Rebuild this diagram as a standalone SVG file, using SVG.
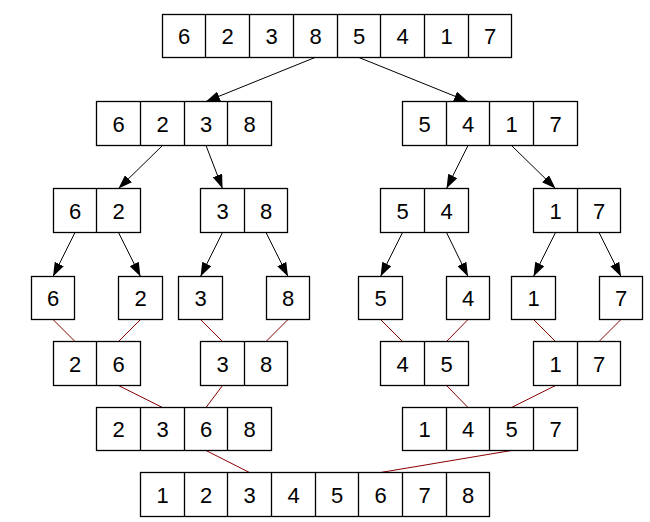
<svg xmlns="http://www.w3.org/2000/svg" width="650" height="522" viewBox="0 0 650 522">
<defs>
<style>
.box{fill:#fff;stroke:#000;stroke-width:1.3}
.div{stroke:#000;stroke-width:1.3}
text{font-family:"Liberation Sans",Arial,sans-serif;font-size:22px;text-anchor:middle;fill:#000}
.split{stroke:#000;stroke-width:1;fill:none}
.merge{stroke:#8b0000;stroke-width:1;fill:none}
</style>
<marker id="ah" markerUnits="userSpaceOnUse" markerWidth="14" markerHeight="10" refX="14" refY="5" orient="auto" viewBox="0 0 14 10">
<path d="M0,0 L14,5 L0,10 z" fill="#000"/>
</marker>
</defs>
<rect width="650" height="522" fill="#fff"/>
<g id="connectors">
<g class="split">
<line x1="315" y1="57.5" x2="206" y2="101.5" marker-end="url(#ah)"/>
<line x1="359" y1="57.5" x2="468" y2="101.5" marker-end="url(#ah)"/>
<line x1="162.5" y1="145.5" x2="118.5" y2="188.5" marker-end="url(#ah)"/>
<line x1="206" y1="145.5" x2="222.5" y2="188.5" marker-end="url(#ah)"/>
<line x1="468" y1="145.5" x2="446.5" y2="188.5" marker-end="url(#ah)"/>
<line x1="511.5" y1="145.5" x2="555.5" y2="188.5" marker-end="url(#ah)"/>
<line x1="75" y1="232.5" x2="53" y2="276.5" marker-end="url(#ah)"/>
<line x1="118.5" y1="232.5" x2="140.5" y2="276.5" marker-end="url(#ah)"/>
<line x1="222.5" y1="232.5" x2="200.5" y2="276.5" marker-end="url(#ah)"/>
<line x1="266" y1="232.5" x2="288" y2="276.5" marker-end="url(#ah)"/>
<line x1="402.5" y1="232.5" x2="380.5" y2="276.5" marker-end="url(#ah)"/>
<line x1="446.5" y1="232.5" x2="468" y2="276.5" marker-end="url(#ah)"/>
<line x1="555.5" y1="232.5" x2="533.5" y2="276.5" marker-end="url(#ah)"/>
<line x1="599" y1="232.5" x2="621" y2="276.5" marker-end="url(#ah)"/>
</g>
<g class="merge">
<line x1="53" y1="319.5" x2="75" y2="341.5"/>
<line x1="140.5" y1="319.5" x2="118.5" y2="341.5"/>
<line x1="200.5" y1="319.5" x2="222.5" y2="341.5"/>
<line x1="288" y1="319.5" x2="266" y2="341.5"/>
<line x1="380.5" y1="319.5" x2="402.5" y2="341.5"/>
<line x1="468" y1="319.5" x2="446.5" y2="341.5"/>
<line x1="533.5" y1="319.5" x2="555.5" y2="341.5"/>
<line x1="621" y1="319.5" x2="599" y2="341.5"/>
<line x1="118.5" y1="385.5" x2="162.5" y2="407.5"/>
<line x1="222.5" y1="385.5" x2="206" y2="407.5"/>
<line x1="446.5" y1="385.5" x2="468" y2="407.5"/>
<line x1="555.5" y1="385.5" x2="511.5" y2="407.5"/>
<line x1="206" y1="450.5" x2="249.5" y2="472.5"/>
<line x1="511.5" y1="450.5" x2="380.5" y2="472.5"/>
</g>
</g>

<g id="n_top">
<rect class="box" x="162.5" y="14.5" width="349" height="43"/>
<path class="div" d="M205.5,14.5V57.5M249.5,14.5V57.5M293.5,14.5V57.5M337.5,14.5V57.5M380.5,14.5V57.5M424.5,14.5V57.5M468.5,14.5V57.5"/>
<text x="184" y="44">6</text><text x="227.5" y="44">2</text><text x="271.5" y="44">3</text><text x="315.5" y="44">8</text><text x="359" y="44">5</text><text x="402.5" y="44">4</text><text x="446.5" y="44">1</text><text x="490" y="44">7</text>
</g>

<g id="n_6238">
<rect class="box" x="96.5" y="101.5" width="175" height="44"/>
<path class="div" d="M140.5,101.5V145.5M184.5,101.5V145.5M227.5,101.5V145.5"/>
<text x="118.5" y="131.5">6</text><text x="162.5" y="131.5">2</text><text x="206" y="131.5">3</text><text x="249.5" y="131.5">8</text>
</g>
<g id="n_5417">
<rect class="box" x="402.5" y="101.5" width="175" height="44"/>
<path class="div" d="M446.5,101.5V145.5M489.5,101.5V145.5M533.5,101.5V145.5"/>
<text x="424.5" y="131.5">5</text><text x="468" y="131.5">4</text><text x="511.5" y="131.5">1</text><text x="555.5" y="131.5">7</text>
</g>

<g id="n_62">
<rect class="box" x="53.5" y="188.5" width="87" height="44"/>
<path class="div" d="M96.5,188.5V232.5"/>
<text x="75" y="218.5">6</text><text x="118.5" y="218.5">2</text>
</g>
<g id="n_38">
<rect class="box" x="200.5" y="188.5" width="87" height="44"/>
<path class="div" d="M244.5,188.5V232.5"/>
<text x="222.5" y="218.5">3</text><text x="266" y="218.5">8</text>
</g>
<g id="n_54">
<rect class="box" x="380.5" y="188.5" width="88" height="44"/>
<path class="div" d="M424.5,188.5V232.5"/>
<text x="402.5" y="218.5">5</text><text x="446.5" y="218.5">4</text>
</g>
<g id="n_17">
<rect class="box" x="533.5" y="188.5" width="87" height="44"/>
<path class="div" d="M577.5,188.5V232.5"/>
<text x="555.5" y="218.5">1</text><text x="599" y="218.5">7</text>
</g>

<g id="n_6"><rect class="box" x="31.5" y="276.5" width="43" height="43"/><text x="53" y="306">6</text></g>
<g id="n_2"><rect class="box" x="118.5" y="276.5" width="44" height="43"/><text x="140.5" y="306">2</text></g>
<g id="n_3"><rect class="box" x="178.5" y="276.5" width="44" height="43"/><text x="200.5" y="306">3</text></g>
<g id="n_8"><rect class="box" x="266.5" y="276.5" width="43" height="43"/><text x="288" y="306">8</text></g>
<g id="n_5"><rect class="box" x="358.5" y="276.5" width="44" height="43"/><text x="380.5" y="306">5</text></g>
<g id="n_4"><rect class="box" x="446.5" y="276.5" width="43" height="43"/><text x="468" y="306">4</text></g>
<g id="n_1"><rect class="box" x="511.5" y="276.5" width="44" height="43"/><text x="533.5" y="306">1</text></g>
<g id="n_7"><rect class="box" x="599.5" y="276.5" width="43" height="43"/><text x="621" y="306">7</text></g>

<g id="n_26">
<rect class="box" x="53.5" y="341.5" width="87" height="44"/>
<path class="div" d="M96.5,341.5V385.5"/>
<text x="75" y="371.5">2</text><text x="118.5" y="371.5">6</text>
</g>
<g id="n_38b">
<rect class="box" x="200.5" y="341.5" width="87" height="44"/>
<path class="div" d="M244.5,341.5V385.5"/>
<text x="222.5" y="371.5">3</text><text x="266" y="371.5">8</text>
</g>
<g id="n_45">
<rect class="box" x="380.5" y="341.5" width="88" height="44"/>
<path class="div" d="M424.5,341.5V385.5"/>
<text x="402.5" y="371.5">4</text><text x="446.5" y="371.5">5</text>
</g>
<g id="n_17b">
<rect class="box" x="533.5" y="341.5" width="87" height="44"/>
<path class="div" d="M577.5,341.5V385.5"/>
<text x="555.5" y="371.5">1</text><text x="599" y="371.5">7</text>
</g>

<g id="n_2368">
<rect class="box" x="96.5" y="407.5" width="175" height="43"/>
<path class="div" d="M140.5,407.5V450.5M184.5,407.5V450.5M227.5,407.5V450.5"/>
<text x="118.5" y="437">2</text><text x="162.5" y="437">3</text><text x="206" y="437">6</text><text x="249.5" y="437">8</text>
</g>
<g id="n_1457">
<rect class="box" x="402.5" y="407.5" width="175" height="43"/>
<path class="div" d="M446.5,407.5V450.5M489.5,407.5V450.5M533.5,407.5V450.5"/>
<text x="424.5" y="437">1</text><text x="468" y="437">4</text><text x="511.5" y="437">5</text><text x="555.5" y="437">7</text>
</g>

<g id="n_sorted">
<rect class="box" x="140.5" y="472.5" width="349" height="44"/>
<path class="div" d="M184.5,472.5V516.5M227.5,472.5V516.5M271.5,472.5V516.5M315.5,472.5V516.5M358.5,472.5V516.5M402.5,472.5V516.5M446.5,472.5V516.5"/>
<text x="162.5" y="502.5">1</text><text x="206" y="502.5">2</text><text x="249.5" y="502.5">3</text><text x="293.5" y="502.5">4</text><text x="337" y="502.5">5</text><text x="380.5" y="502.5">6</text><text x="424.5" y="502.5">7</text><text x="468" y="502.5">8</text>
</g>
</svg>
